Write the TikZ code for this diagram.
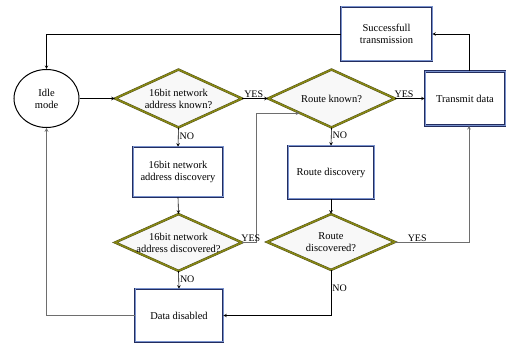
\documentclass[tikz,border=0pt]{standalone}
\usepackage{fontspec}
\setmainfont{Liberation Serif}
\usepackage{tikz}
\usetikzlibrary{shapes.geometric}
\definecolor{boxDark}{RGB}{35,45,95}
\definecolor{boxLight}{RGB}{120,145,205}
\definecolor{diamondOlive}{RGB}{135,135,20}
\definecolor{diamondDark}{RGB}{70,70,20}
\definecolor{diamondFill}{RGB}{248,248,248}
\definecolor{lineGray}{RGB}{110,110,110}
\tikzstyle{chart} = [x = 1pt, y = -1pt, font=\fontsize{10.5}{12}\selectfont, >=stealth]
\tikzstyle{stateStyle} = [ellipse, draw=black, line width = 1pt, minimum width = 65, minimum height = 58, inner sep = 0pt, align=center]
\tikzstyle{boxStyle} = [rectangle, draw=boxDark, line width = .6pt, double=boxLight, double distance = 1pt, fill=white, inner sep = 0pt, align=center]
\tikzstyle{questionStyle} = [diamond, aspect = 2.2, draw=diamondDark, line width = .4pt, double=diamondOlive, double distance = 1.6pt, fill=diamondFill, inner sep = 0pt, inner xsep = -8pt, align=center]
\tikzstyle{flowLine} = [color=black, line width = .6pt]
\tikzstyle{grayLine} = [color=lineGray, line width = .7pt]
\tikzstyle{answer} = [font=\fontsize{10}{11}\selectfont, inner sep = 1pt]
\begin{document}
\begin{tikzpicture}[chart]
        \useasboundingbox (0,0) rectangle (506,344);

        % states and boxes
        \node [stateStyle] (idle) at (46.5,98.5) {Idle\\mode};
        \node [questionStyle, minimum width = 127, minimum height = 58] (addrKnown) at (178.5,98.5) {16bit network\\address known?};
        \node [boxStyle, minimum width = 90, minimum height = 50] (addrDisc) at (178,172) {16bit network\\address discovery};
        \node [questionStyle, minimum width = 127, minimum height = 57] (addrFound) at (178.5,242.5) {16bit network\\address discovered?};
        \node [boxStyle, minimum width = 88, minimum height = 53] (disabled) at (179,315.5) {Data disabled};
        \node [questionStyle, minimum width = 127, minimum height = 58] (routeKnown) at (331.5,98.5) {Route known?};
        \node [boxStyle, minimum width = 86, minimum height = 53] (routeDisc) at (331,172.5) {Route discovery};
        \node [questionStyle, minimum width = 128, minimum height = 56] (routeFound) at (331,242) {Route\\discovered?};
        \node [boxStyle, minimum width = 80, minimum height = 54] (transmit) at (465,98.5) {Transmit data};
        \node [boxStyle, minimum width = 91, minimum height = 54] (success) at (386.5,34) {Successfull\\transmission};

        % connectors
        \draw [flowLine, ->] (idle.east) -- (addrKnown.west);
        \draw [flowLine, ->] (addrKnown.east) -- node [answer, above, pos = .45] (yesOne) {YES} (routeKnown.west);
        \draw [flowLine, ->] (addrKnown.south) -- node [answer, right, pos = .45] (noOne) {NO} (addrDisc.north);
        \draw [flowLine, ->] (addrDisc.south) -- (addrFound.north);
        \draw [flowLine, ->] (addrFound.south) -- node [answer, right, pos = .45] (noTwo) {NO} (disabled.north);
        \draw [grayLine, ->] (addrFound.east) -- ++(14,0) coordinate (turnOne) |- (routeKnown.south west);
        \node [answer, above right] (yesTwo) at ([xshift = -2pt] addrFound.east) {YES};
        \draw [flowLine, ->] (routeKnown.east) -- node [answer, above, pos = .3] (yesThree) {YES} (transmit.west);
        \draw [flowLine, ->] (routeKnown.south) -- node [answer, right, pos = .4] (noThree) {NO} (routeDisc.north);
        \draw [flowLine, ->] (routeDisc.south) -- (routeFound.north);
        \draw [grayLine, ->] (routeFound.east) -- (469,242) coordinate (turnTwo) -- (transmit.south -| turnTwo);
        \node [answer, above] (yesFour) at ([xshift = 22pt, yshift = -1pt] routeFound.east) {YES};
        \draw [flowLine, ->] (routeFound.south) |- node [answer, right, pos = .2] (noFour) {NO} (disabled.east);
        \draw [grayLine, ->] (disabled.west) -| (idle.south);
        \draw [flowLine, ->] (transmit.north -| turnTwo) |- (success.east);
        \draw [flowLine, ->] (success.west) -| (idle.north);
      \end{tikzpicture}
\end{document}
